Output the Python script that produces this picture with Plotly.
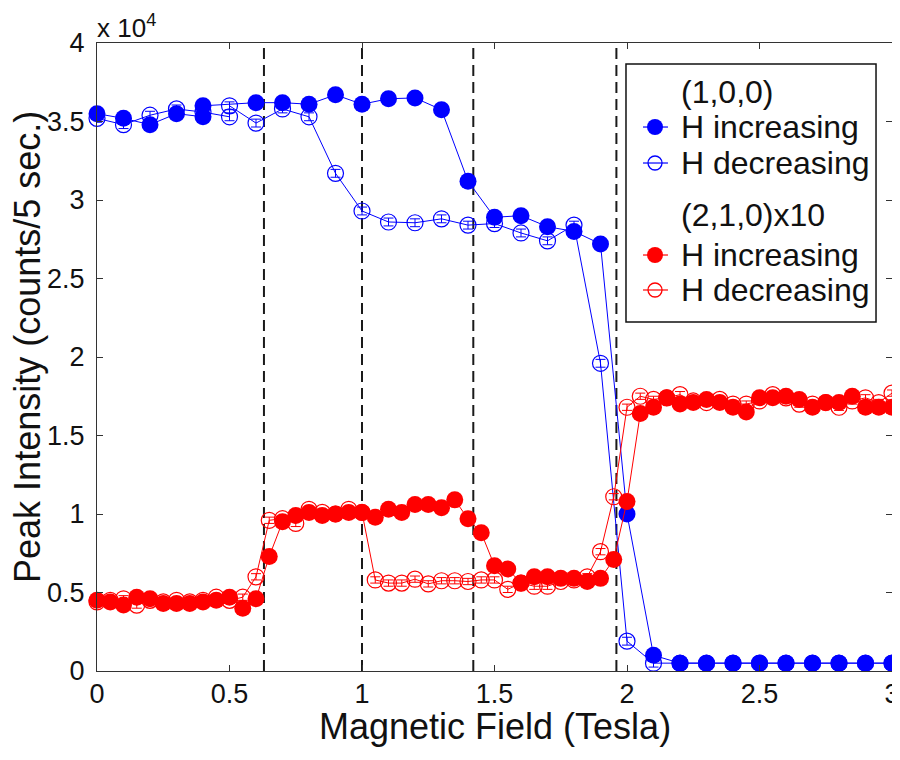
import plotly.graph_objects as go

# ---- data (peak intensity in units of 10^4 counts / 5 sec) ----
b_inc_x = [0, 0.1, 0.2, 0.3, 0.4, 0.4, 0.6, 0.7, 0.8, 0.9, 1.0, 1.1, 1.2, 1.3, 1.4, 1.5,
           1.6, 1.7, 1.8, 1.9, 2.0, 2.1, 2.2, 2.3, 2.4, 2.5, 2.6, 2.7, 2.8, 2.9, 3.0]
b_inc_y = [3.55, 3.52, 3.48, 3.55, 3.53, 3.60, 3.62, 3.62, 3.61, 3.67, 3.61, 3.645, 3.65, 3.575, 3.12, 2.89,
           2.90, 2.83, 2.80, 2.72, 1.00, 0.10, 0.05, 0.05, 0.05, 0.05, 0.05, 0.05, 0.05, 0.05, 0.05]

b_dec_x = [0, 0.1, 0.2, 0.3, 0.4, 0.5, 0.5, 0.6, 0.7, 0.8, 0.9, 1.0, 1.1, 1.2, 1.3, 1.4, 1.5,
           1.6, 1.7, 1.8, 1.9, 2.0, 2.1, 2.2, 2.3, 2.4, 2.5, 2.6, 2.7, 2.8, 2.9, 3.0]
b_dec_y = [3.52, 3.48, 3.54, 3.58, 3.56, 3.53, 3.60, 3.49, 3.58, 3.53, 3.17, 2.93, 2.86, 2.855, 2.88, 2.84, 2.85,
           2.79, 2.74, 2.84, 1.96, 0.19, 0.05, 0.05, 0.05, 0.05, 0.05, 0.05, 0.05, 0.05, 0.05, 0.05]

r_x = [round(i * 0.05, 2) for i in range(61)]
r_inc_y = [0.45, 0.44, 0.42, 0.47, 0.46, 0.43, 0.43, 0.43, 0.44, 0.45, 0.47, 0.40, 0.46,
           0.73, 0.95, 0.99, 1.01, 0.99, 1.00, 1.01, 1.01, 0.98, 1.03, 1.01, 1.06, 1.06, 1.04, 1.09,
           0.97, 0.88, 0.67, 0.65, 0.56, 0.60, 0.60, 0.59, 0.59, 0.57, 0.59, 0.71, 1.08,
           1.64, 1.68, 1.74, 1.70, 1.71, 1.73, 1.71, 1.68, 1.65, 1.74, 1.74, 1.75, 1.73, 1.68,
           1.71, 1.71, 1.75, 1.68, 1.68, 1.68]
r_dec_y = [0.44, 0.45, 0.46, 0.42, 0.45, 0.44, 0.45, 0.44, 0.45, 0.47, 0.45, 0.47, 0.60,
           0.96, 0.97, 0.94, 1.03, 1.01, 1.00, 1.03, 1.01, 0.58, 0.56, 0.56, 0.585, 0.555, 0.575, 0.575,
           0.57, 0.58, 0.58, 0.52, 0.56, 0.54, 0.54, 0.57, 0.58, 0.60, 0.76, 1.11, 1.68,
           1.75, 1.73, 1.74, 1.76, 1.72, 1.71, 1.73, 1.70, 1.70, 1.72, 1.76, 1.74, 1.70, 1.70,
           1.71, 1.68, 1.72, 1.74, 1.71, 1.77]

err_b = 0.025
err_r = 0.02
transitions = [0.63, 1.0, 1.42, 1.96]

x_ticks = [0, 0.5, 1, 1.5, 2, 2.5, 3]
x_ticklabels = ["0", "0.5", "1", "1.5", "2", "2.5", "3"]
y_ticks = [0, 0.5, 1, 1.5, 2, 2.5, 3, 3.5, 4]
y_ticklabels = ["0", "0.5", "1", "1.5", "2", "2.5", "3", "3.5", "4"]

# legend rows: (label, colour or None for a group heading, filled?)
legend_rows = [("(1,0,0)", None, None),
               ("H increasing", "#0000ff", True),
               ("H decreasing", "#0000ff", False),
               ("(2,1,0)x10", None, None),
               ("H increasing", "#ff0000", True),
               ("H decreasing", "#ff0000", False)]

BLUE = "#0000ff"
RED = "#ff0000"
INK = "#111111"
FONT = "Liberation Sans, Arial, sans-serif"

fig = go.Figure()

fig.add_trace(go.Scatter(x=b_inc_x, y=b_inc_y, mode="lines+markers", name="H increasing",
                         cliponaxis=False, line=dict(color=BLUE, width=1),
                         marker=dict(symbol="circle", size=17, color=BLUE)))
fig.add_trace(go.Scatter(x=b_dec_x, y=b_dec_y, mode="lines+markers", name="H decreasing",
                         cliponaxis=False, line=dict(color=BLUE, width=1),
                         error_y=dict(type="constant", value=err_b, color=BLUE, thickness=1, width=5),
                         marker=dict(symbol="circle-open", size=16, color=BLUE, line=dict(width=1.2))))
fig.add_trace(go.Scatter(x=r_x, y=r_inc_y, mode="lines+markers", name="H increasing",
                         cliponaxis=False, line=dict(color=RED, width=1),
                         marker=dict(symbol="circle", size=17, color=RED)))
fig.add_trace(go.Scatter(x=r_x, y=r_dec_y, mode="lines+markers", name="H decreasing",
                         cliponaxis=False, line=dict(color=RED, width=1),
                         error_y=dict(type="constant", value=err_r, color=RED, thickness=1, width=5),
                         marker=dict(symbol="circle-open", size=16, color=RED, line=dict(width=1.2))))

for t in transitions:
    fig.add_shape(type="line", xref="x", yref="paper", x0=t, x1=t, y0=0, y1=1,
                  line=dict(color="#1a1a1a", width=2, dash="11px,6px"), layer="below")

# ---- hand-drawn legend box (paper coordinates) ----
LX0, LX1, LY0, LY1 = 0.6654, 0.9799, 0.5557, 0.9666
TEXT_X = 0.7321
SYM_X0, SYM_X1, SYM_XC = 0.6868, 0.7182, 0.7019
ROW_Y = [0.9220, 0.8662, 0.8089, 0.7261, 0.6624, 0.6067]

fig.add_shape(type="rect", xref="paper", yref="paper", x0=LX0, x1=LX1, y0=LY0, y1=LY1,
              fillcolor="white", line=dict(color=INK, width=1.5), layer="above")

annotations = []
for (label, col, filled), ry in zip(legend_rows, ROW_Y):
    annotations.append(dict(text=label, xref="paper", yref="paper", x=TEXT_X, y=ry,
                            xanchor="left", yanchor="middle", showarrow=False,
                            font=dict(size=32, color=INK)))
    if col is None:
        continue
    fig.add_shape(type="line", xref="paper", yref="paper", x0=SYM_X0, x1=SYM_X1, y0=ry, y1=ry,
                  line=dict(color=col, width=1.2), layer="above")
    r = 8 if filled else 7
    fig.add_shape(type="circle", xref="paper", yref="paper", xsizemode="pixel", ysizemode="pixel",
                  xanchor=SYM_XC, yanchor=ry, x0=-r, x1=r, y0=-r, y1=r,
                  fillcolor=col if filled else "rgba(0,0,0,0)",
                  line=dict(color=col, width=0 if filled else 1.3), layer="above")

annotations += [
    dict(text="x 10<sup>4</sup>", xref="paper", yref="paper", x=0, y=1,
         xanchor="left", yanchor="bottom", showarrow=False, yshift=-2, xshift=-2,
         font=dict(size=26, color=INK)),
    dict(text="Magnetic Field (Tesla)", xref="paper", yref="paper", x=0.5, y=0,
         xanchor="center", yanchor="middle", yshift=-55, showarrow=False,
         font=dict(size=36, color=INK)),
    dict(text="Peak Intensity (counts/5 sec.)", xref="paper", yref="paper", x=0, y=0.516,
         xanchor="center", yanchor="middle", xshift=-69, textangle=-90, showarrow=False,
         font=dict(size=36, color=INK)),
]

axis_common = dict(showline=True, linecolor="#333333", linewidth=1, mirror="ticks",
                   ticks="inside", ticklen=6, tickcolor="#333333", showgrid=False,
                   zeroline=False, automargin=False, tickfont=dict(size=27, color=INK))

fig.update_layout(
    width=892, height=744,
    margin=dict(l=89, r=8, t=35, b=81),
    paper_bgcolor="white", plot_bgcolor="white",
    font=dict(family=FONT, color=INK),
    xaxis=dict(range=[0, 3], tickvals=x_ticks, ticktext=x_ticklabels,
               ticklabelstandoff=-1, **axis_common),
    yaxis=dict(range=[0, 4], tickvals=y_ticks, ticktext=y_ticklabels,
               ticklabelstandoff=6, **axis_common),
    showlegend=False,
    annotations=annotations,
)

fig.write_html("out.html")
